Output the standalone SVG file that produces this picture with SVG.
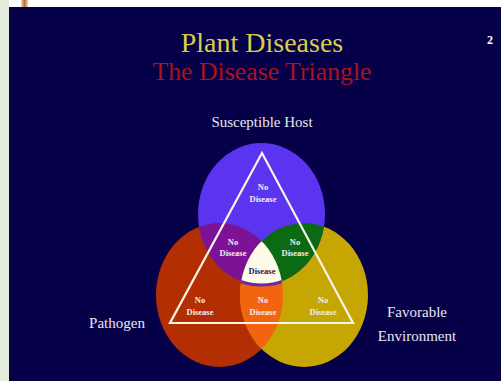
<svg xmlns="http://www.w3.org/2000/svg" width="501" height="381" viewBox="0 0 501 381">
<style>
.lbl{font-family:"Liberation Serif","DejaVu Serif",serif;fill:#e8e8f0;font-size:15px;text-anchor:middle}
.nd{font-family:"Liberation Serif","DejaVu Serif",serif;fill:#f4ecf0;font-size:8.5px;font-weight:bold;text-anchor:middle}
</style>
<defs>
<clipPath id="cRed"><ellipse cx="219.5" cy="295" rx="63.5" ry="72"/></clipPath>
<clipPath id="cYel"><ellipse cx="304" cy="295" rx="64" ry="72"/></clipPath>
<linearGradient id="tab" x1="0" x2="1" y1="0" y2="0">
<stop offset="0" stop-color="#f0d8b8"/><stop offset="0.5" stop-color="#b8703a"/><stop offset="1" stop-color="#f0d8b8"/>
</linearGradient>
</defs>
<rect x="0" y="0" width="501" height="381" fill="#050048"/>
<rect x="0" y="0" width="9" height="381" fill="#e4eedc"/>
<rect x="9" y="0" width="492" height="7" fill="#ffffff"/>
<rect x="21" y="0" width="7" height="7" fill="url(#tab)"/>

<text x="262" y="52" font-family="Liberation Serif, DejaVu Serif, serif" font-size="28" fill="#d8cc4a" text-anchor="middle">Plant Diseases</text>
<text x="262" y="80" font-family="Liberation Serif, DejaVu Serif, serif" font-size="26" fill="#a8141c" text-anchor="middle" textLength="219" lengthAdjust="spacingAndGlyphs">The Disease Triangle</text>
<text x="490" y="44" font-family="Liberation Serif, DejaVu Serif, serif" font-size="12" font-weight="bold" fill="#ffffff" text-anchor="middle">2</text>

<g id="pathogen-circle"><ellipse cx="219.5" cy="295" rx="63.5" ry="72" fill="#b32e02"/></g>
<g id="environment-circle"><ellipse cx="304" cy="295" rx="64" ry="72" fill="#c6a602"/></g>
<g id="host-circle"><ellipse cx="261.5" cy="214" rx="63.5" ry="71" fill="#5a34ee"/></g>
<g id="pathogen-environment"><ellipse cx="219.5" cy="295" rx="63.5" ry="72" fill="#f26410" clip-path="url(#cYel)"/></g>
<g id="host-pathogen"><ellipse cx="261.5" cy="214" rx="63.5" ry="71" fill="#7e1296" clip-path="url(#cRed)"/></g>
<g id="host-environment"><ellipse cx="261.5" cy="214" rx="63.5" ry="71" fill="#0c6a12" clip-path="url(#cYel)"/></g>
<g id="disease-center"><g clip-path="url(#cYel)"><ellipse cx="261.5" cy="214" rx="63.5" ry="71" fill="#fffbea" stroke="#6a2aa0" stroke-width="3" clip-path="url(#cRed)"/></g></g>

<g id="connectors">
<polygon points="262,153 170,323 353,323" fill="none" stroke="#f8f4e8" stroke-width="2.2" stroke-linejoin="miter"/>
</g>

<g id="labels">
<text class="lbl" x="262" y="127">Susceptible Host</text>
<text class="lbl" x="117" y="328">Pathogen</text>
<text class="lbl" x="417" y="317">Favorable</text>
<text class="lbl" x="417" y="341">Environment</text>
</g>
<g id="region-labels">
<text class="nd" x="263" y="190">No</text><text class="nd" x="263" y="202">Disease</text>
<text class="nd" x="233" y="245">No</text><text class="nd" x="233" y="256">Disease</text>
<text class="nd" x="295" y="245">No</text><text class="nd" x="295" y="256">Disease</text>
<text class="nd" x="262" y="274" style="fill:#1c1a5c">Disease</text>
<text class="nd" x="200" y="303">No</text><text class="nd" x="200" y="315">Disease</text>
<text class="nd" x="263" y="303">No</text><text class="nd" x="263" y="315">Disease</text>
<text class="nd" x="323" y="303">No</text><text class="nd" x="323" y="315">Disease</text>
</g>
</svg>
